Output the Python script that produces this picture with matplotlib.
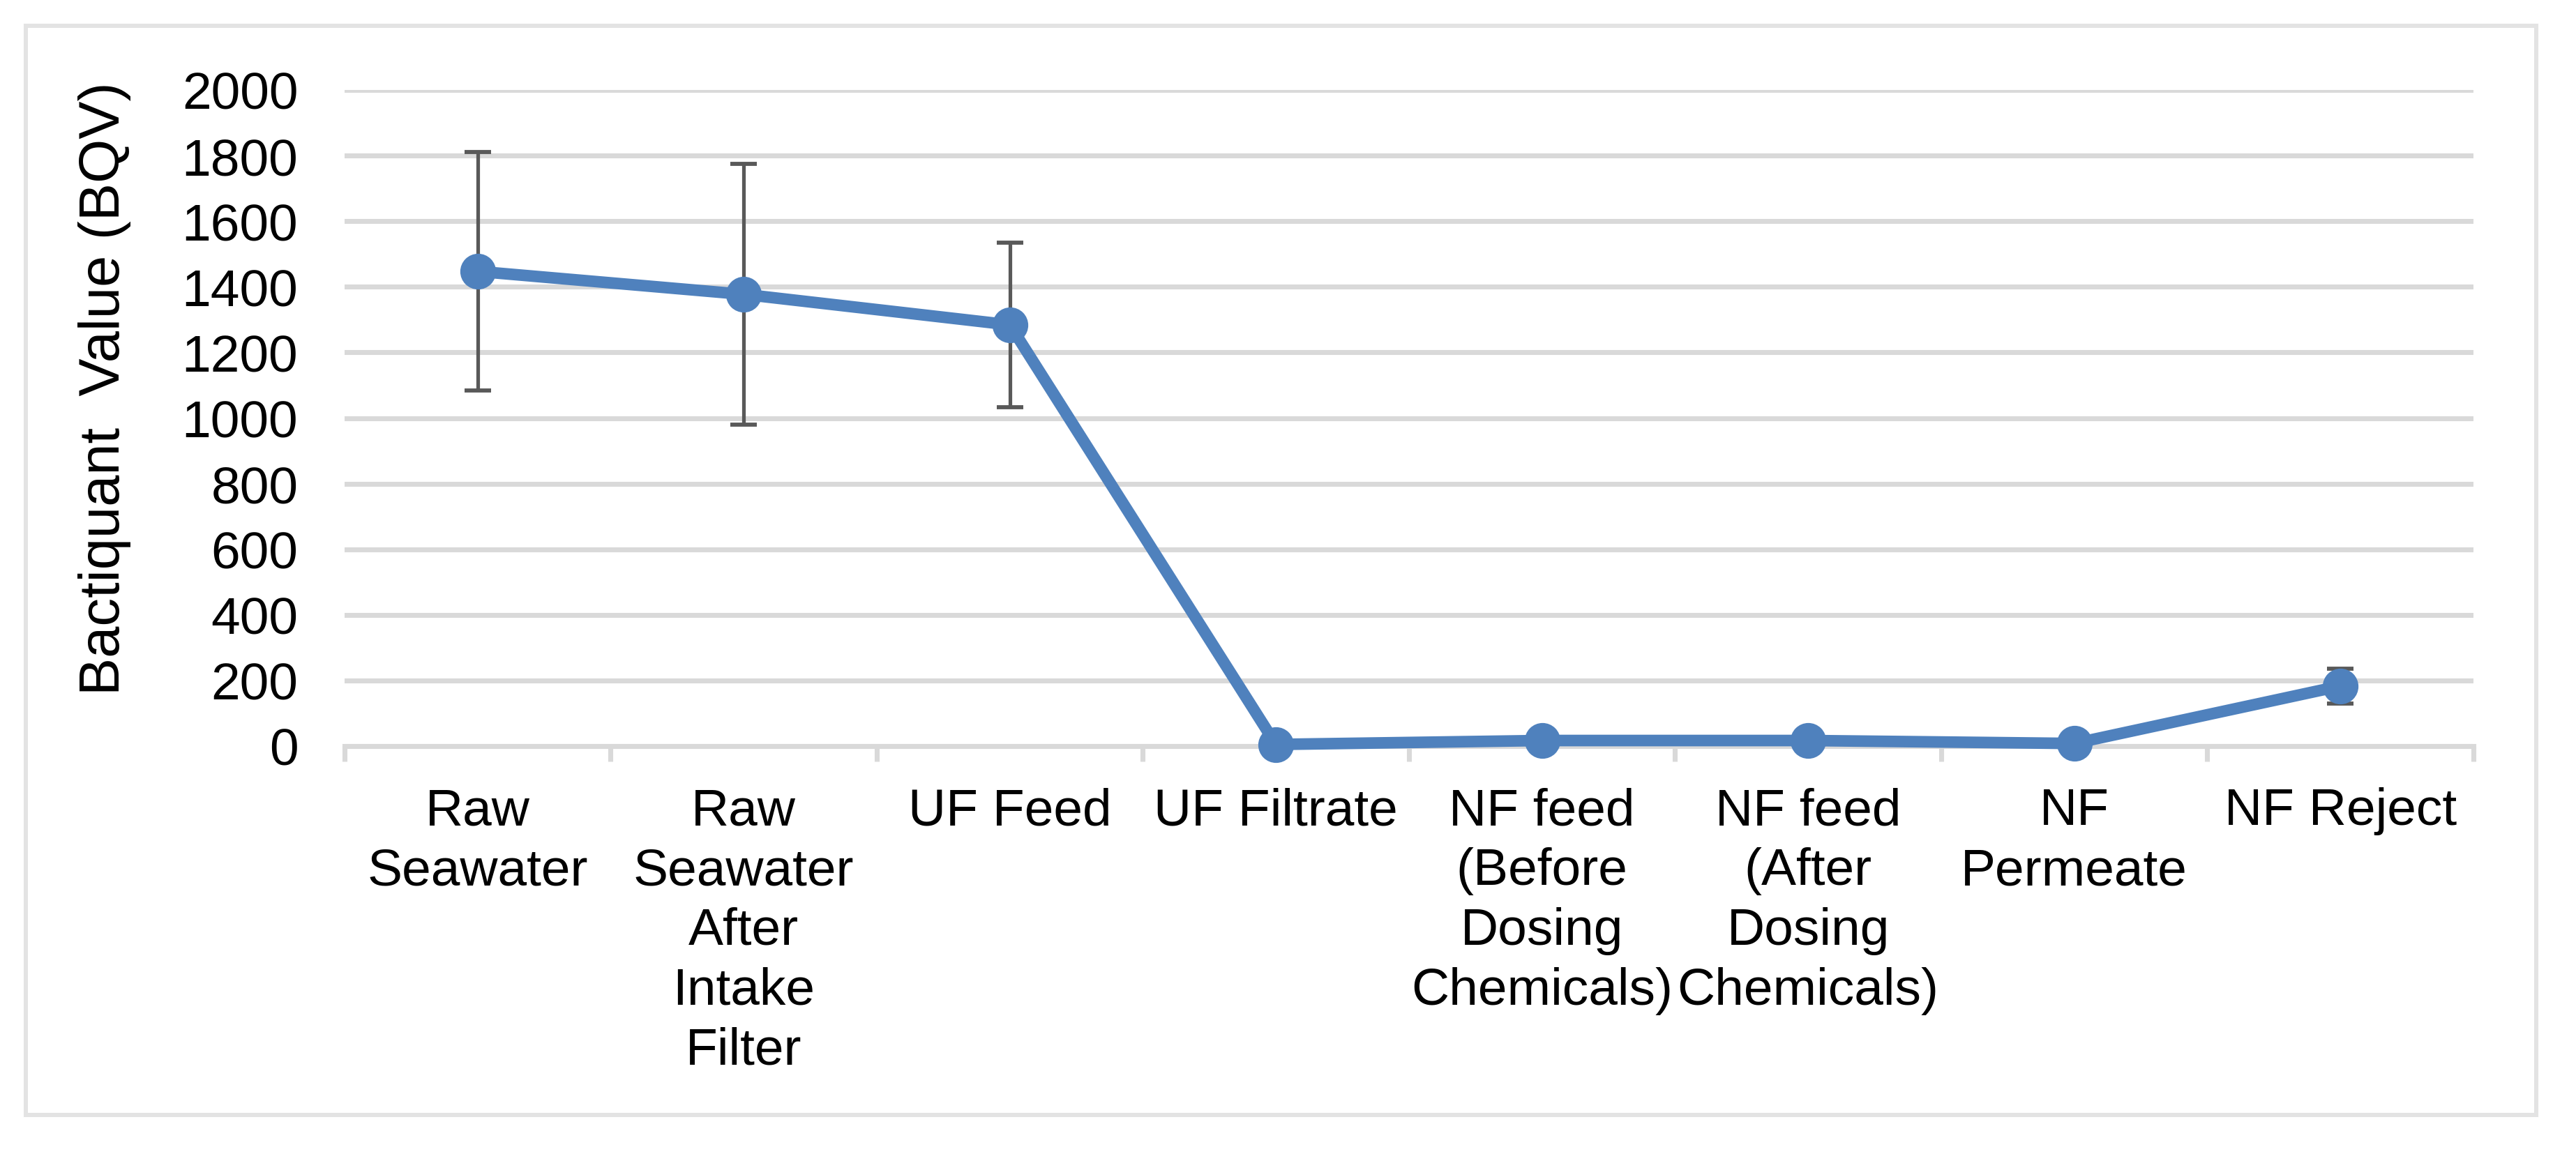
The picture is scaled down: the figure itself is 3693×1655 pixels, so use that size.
import matplotlib
matplotlib.use('Agg')
import matplotlib.pyplot as plt
from matplotlib.patches import Rectangle

plt.rcParams['font.family'] = ['Liberation Sans', 'DejaVu Sans']

categories = [
    'Raw\nSeawater',
    'Raw\nSeawater\nAfter\nIntake\nFilter',
    'UF Feed',
    'UF Filtrate',
    'NF feed\n(Before\nDosing\nChemicals)',
    'NF feed\n(After\nDosing\nChemicals)',
    'NF\nPermeate',
    'NF Reject',
]
bqv = [1447, 1377, 1284, 5, 17, 17, 8, 183]
bqv_err = [364, 397, 250, 2, 3, 3, 2, 53]
y_ticks = [0, 200, 400, 600, 800, 1000, 1200, 1400, 1600, 1800, 2000]

W, H, DPI = 3693, 1656, 300
fig = plt.figure(figsize=(W / DPI, H / DPI), dpi=DPI)

# chart border
fig.patches.append(Rectangle((37 / W, 1 - 1600 / H), (3636 - 37) / W, (1600 - 38) / H,
                             transform=fig.transFigure, fill=False,
                             edgecolor='#e3e3e3', linewidth=1.45))

ax = fig.add_axes([494 / W, 1 - 1071 / H, 3052 / W, 941 / H])

x = list(range(len(categories)))
ax.errorbar(x, bqv, yerr=bqv_err, fmt='none', ecolor='#595959',
            elinewidth=1.25, capsize=4.6, capthick=1.4, zorder=3, clip_on=False)
ax.plot(x, bqv, color='#4f81bd', linewidth=4, marker='o', markersize=11.3,
        zorder=4, clip_on=False)

ax.set_xlim(-0.5, len(categories) - 0.5)
ax.set_ylim(0, 2000)
ax.set_yticks(y_ticks)
ax.set_yticklabels([str(v) for v in y_ticks], fontsize=18)
ax.tick_params(axis='y', length=0, pad=16)

ax.set_xticks(x)
ax.set_xticklabels(categories, fontsize=18, linespacing=1.31)
ax.set_xticks([i - 0.5 for i in range(len(categories) + 1)], minor=True)
ax.tick_params(axis='x', which='major', length=0, pad=14)
ax.tick_params(axis='x', which='minor', length=5.3, width=1.7, color='#d9d9d9')

ax.grid(axis='y', color='#d9d9d9', linewidth=1.7, zorder=0)
ax.set_axisbelow(True)
for s in ['top', 'right', 'left']:
    ax.spines[s].set_visible(False)
ax.spines['bottom'].set_color('#d9d9d9')
ax.spines['bottom'].set_linewidth(1.7)

fig.text(150 / W, 1 - 557 / H, 'Bactiquant  Value (BQV)', rotation=90,
         ha='center', va='center', fontsize=19.5)

fig.savefig('out.png', dpi=DPI)
